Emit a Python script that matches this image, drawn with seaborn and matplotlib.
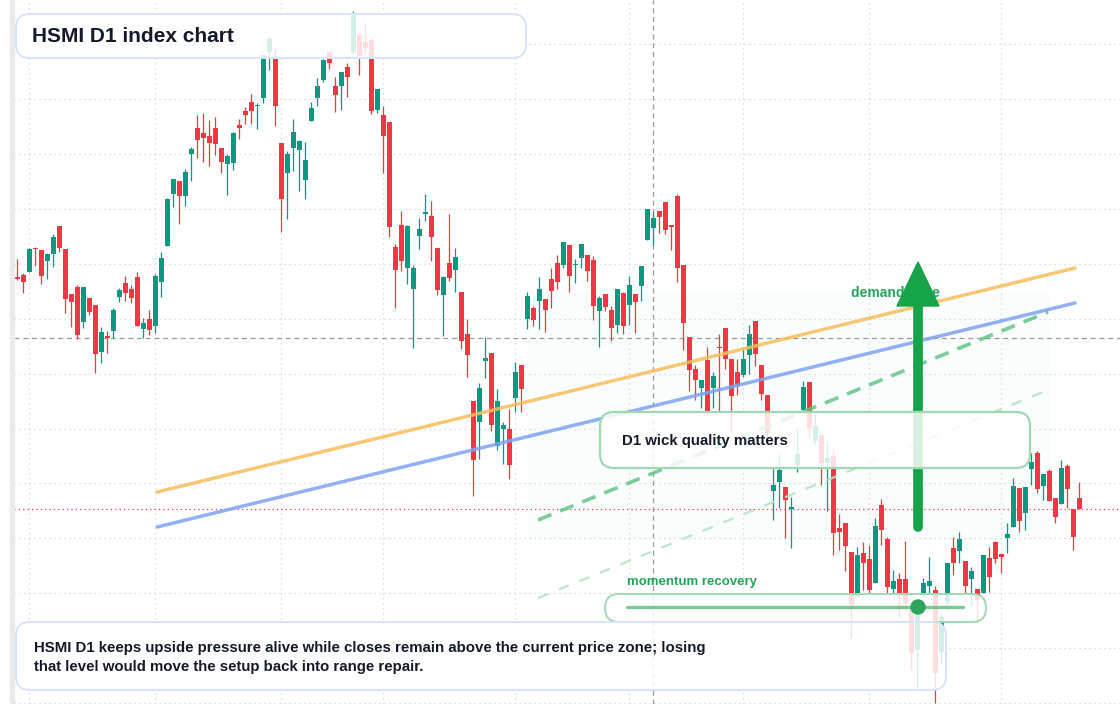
import matplotlib
matplotlib.use("Agg")
import matplotlib.pyplot as plt
from matplotlib.patches import FancyBboxPatch, Polygon, Rectangle, Circle
import numpy as np
import pandas as pd
import seaborn as sns

# daily bars, index points
opens = [427, 429, 432, 456, 454, 443, 450, 478, 455, 410,
         417, 382, 406, 399, 352, 368, 373, 407, 421, 415,
         427, 375, 385, 378, 422, 458, 510, 523, 508, 550,
         576, 571, 568, 576, 556, 540, 541, 579, 593, 602,
         598, 606, 652, 647, 561, 531, 556, 554, 524, 583,
         606, 624, 652, 618, 618, 637, 652, 669, 662, 664,
         594, 589, 582, 457, 479, 436, 415, 468, 490, 488,
         456, 409, 441, 434, 412, 370, 303, 282, 343, 351,
         258, 275, 275, 306, 339, 385, 396, 403, 405, 425,
         441, 439, 459, 439, 446, 449, 444, 393, 410, 394,
         379, 411, 399, 410, 418, 464, 476, 493, 502, 479,
         508, 439, 367, 335, 316, 344, 316, 357, 376, 345,
         332, 329, 349, 383, 339, 309, 213, 222, 217, 195,
         239, 294, 322, 263, 269, 241, 248, 176, 181, 152,
         107, 151, 145, 121, 199, 165, 115, 125, 125, 94,
         54, 111, 118, 114, 52, 102, 156, 153, 143, 125,
         115, 111, 146, 162, 150, 166, 177, 216, 191, 235,
         251, 218, 233, 206, 200, 238, 195, 206]
closes = [425, 422, 455, 455, 428, 450, 467, 456, 405, 402,
          369, 417, 392, 350, 372, 366, 394, 414, 411, 406,
          378, 381, 374, 428, 446, 505, 525, 508, 532, 555,
          564, 566, 561, 560, 542, 548, 571, 576, 589, 593,
          599, 649, 665, 598, 505, 550, 572, 563, 544, 596,
          618, 644, 641, 609, 632, 627, 689, 648, 656, 593,
          615, 568, 477, 434, 443, 478, 436, 475, 492, 467,
          414, 427, 426, 447, 363, 349, 244, 316, 346, 279,
          303, 279, 239, 332, 315, 408, 384, 415, 394, 413,
          422, 462, 428, 440, 460, 433, 398, 406, 397, 376,
          415, 378, 419, 402, 438, 495, 486, 487, 474, 477,
          436, 381, 334, 324, 324, 293, 328, 356, 345, 308,
          318, 345, 370, 350, 310, 271, 219, 234, 204, 197,
          250, 317, 276, 278, 241, 246, 171, 172, 158, 99,
          149, 141, 114, 178, 174, 117, 123, 111, 101, 51,
          91, 121, 123, 31, 87, 141, 141, 165, 118, 133,
          104, 149, 127, 145, 147, 170, 218, 183, 217, 242,
          215, 230, 203, 187, 236, 215, 167, 195]
highs = [445, 431, 456, 457, 454, 451, 470, 478, 455, 410,
         419, 417, 406, 399, 377, 373, 396, 416, 428, 419,
         432, 386, 394, 430, 452, 506, 525, 523, 535, 557,
         589, 591, 584, 587, 556, 550, 572, 585, 597, 610,
         601, 649, 667, 655, 561, 553, 585, 564, 562, 602,
         626, 645, 652, 627, 632, 641, 693, 671, 681, 667,
         615, 598, 582, 460, 493, 479, 439, 486, 510, 503,
         456, 428, 490, 456, 412, 385, 303, 321, 367, 351,
         315, 282, 295, 342, 339, 412, 398, 427, 405, 436,
         449, 462, 459, 445, 460, 449, 448, 408, 410, 398,
         415, 412, 428, 410, 438, 495, 492, 493, 502, 479,
         510, 439, 367, 339, 324, 357, 332, 370, 376, 345,
         345, 357, 379, 383, 339, 309, 237, 250, 217, 207,
         276, 323, 322, 291, 269, 263, 253, 190, 181, 152,
         157, 162, 159, 186, 205, 167, 134, 131, 163, 96,
         91, 126, 147, 118, 91, 141, 167, 172, 143, 137,
         115, 149, 157, 163, 150, 181, 226, 216, 217, 251,
         253, 230, 235, 206, 244, 240, 195, 222]
lows = [424, 411, 432, 438, 420, 425, 437, 452, 391, 377,
        365, 376, 389, 331, 341, 351, 366, 402, 403, 401,
        378, 366, 369, 371, 407, 458, 497, 480, 498, 523,
        546, 542, 538, 549, 531, 509, 534, 565, 580, 580,
        575, 601, 634, 578, 472, 485, 533, 513, 505, 583,
        598, 622, 635, 592, 594, 607, 650, 629, 651, 590,
        591, 531, 467, 396, 433, 420, 356, 455, 483, 443,
        409, 368, 423, 412, 355, 327, 208, 245, 326, 273,
        254, 240, 225, 292, 292, 375, 378, 375, 372, 396,
        415, 436, 412, 421, 436, 423, 384, 357, 393, 363,
        371, 370, 379, 371, 403, 464, 459, 471, 470, 454,
        422, 354, 313, 304, 296, 289, 296, 293, 335, 273,
        309, 327, 330, 338, 304, 268, 184, 196, 166, 156,
        232, 294, 266, 260, 219, 193, 149, 154, 133, 66,
        107, 114, 111, 121, 159, 111, 111, 86, 94, 34,
        16, 108, 111, 1, 40, 94, 129, 141, 109, 99,
        82, 111, 112, 141, 131, 151, 177, 172, 174, 219,
        211, 204, 203, 181, 200, 196, 154, 195]

month_starts = [2, 23, 44, 61, 83, 102, 121, 142, 164]
cross_bar = 106
cross_price = 366

# channel lines (bar index, price)
upper_x, upper_y = [23.3, 176.3], [212, 436]
lower_x, lower_y = [23.3, 176.3], [177, 401]
mid_x, mid_y = [86.8, 171.8], [184, 392]
base_x, base_y = [86.8, 171.8], [106, 314]
zone_x, zone_y = [85, 172], [164, 411]

UP, DOWN = "#089981", "#f23645"
INK = "#131a29"
GREEN = "#16a34a"

df = pd.DataFrame({"open": opens, "high": highs, "low": lows, "close": closes})
df["bar"] = np.arange(len(df))
df["color"] = np.where(df.close >= df.open, UP, DOWN)
df["body_lo"] = df[["open", "close"]].min(axis=1)
df["body_h"] = (df.close - df.open).abs().clip(lower=1.3)

sns.set_theme(style="white")
plt.rcParams["font.family"] = ["Liberation Sans", "DejaVu Sans"]

fig = plt.figure(figsize=(11.2, 7.04), dpi=100)
fig.patches.append(Rectangle((10 / 1120, 0), 4 / 1120, 1, transform=fig.transFigure,
                             color="#ebebeb", zorder=0))
ax = fig.add_axes([14 / 1120, 0, 1106 / 1120, 1])
ax.set_xlim(-0.55, 183.8)
ax.set_ylim(0, 704)
ax.set_xticks(month_starts)
ax.set_yticks(np.arange(1, 704, 54.9))
ax.grid(True, color="#d2d2d2", lw=0.9, ls=(0, (1, 3)))
ax.tick_params(labelbottom=False, labelleft=False, length=0)
sns.despine(ax=ax, left=True, bottom=True)

ax.add_patch(FancyBboxPatch((zone_x[0], zone_y[0]), zone_x[1] - zone_x[0], zone_y[1] - zone_y[0],
                            boxstyle="round,pad=0,rounding_size=3", fc="#22c55e", alpha=0.022,
                            ec="none", zorder=0.5))

ax.vlines(df.bar, df.low, df.high, colors=df.color, lw=0.9, zorder=2)
ax.bar(df.bar, df.body_h, bottom=df.body_lo, width=0.8, color=df.color, lw=0, zorder=2)

ax.axvline(cross_bar, color="#9a9a9a", lw=0.9, ls=(0, (4, 3)), zorder=1)
ax.axhline(cross_price, color="#9a9a9a", lw=0.9, ls=(0, (4, 3)), zorder=1)
ax.axhline(closes[-1], color=DOWN, lw=0.9, ls=(0, (1, 2.5)), zorder=1)

lines = pd.DataFrame({
    "bar": upper_x + lower_x + mid_x + base_x,
    "price": upper_y + lower_y + mid_y + base_y,
    "line": ["upper"] * 2 + ["lower"] * 2 + ["mid"] * 2 + ["base"] * 2,
})
sns.lineplot(data=lines[lines.line == "upper"], x="bar", y="price", color="#f8be5c",
             alpha=0.85, lw=2.5, ax=ax, zorder=3)
sns.lineplot(data=lines[lines.line == "lower"], x="bar", y="price", color="#7fa3f2",
             alpha=0.85, lw=2.5, ax=ax, zorder=3)
sns.lineplot(data=lines[lines.line == "mid"], x="bar", y="price", color="#5cc185",
             alpha=0.8, lw=2.6, dashes=False, ls=(0, (4, 2.6)), ax=ax, zorder=3)
sns.lineplot(data=lines[lines.line == "base"], x="bar", y="price", color="#b7e3c5",
             alpha=0.9, lw=1.6, ls=(0, (5, 5)), ax=ax, zorder=3)
ax.set_xlabel("")
ax.set_ylabel("")

# annotation layer, pixel coordinates
ov = fig.add_axes([0, 0, 1, 1], zorder=5)
ov.set_xlim(0, 1120)
ov.set_ylim(704, 0)
ov.axis("off")
ov.patch.set_alpha(0)


def panel(x0, y0, x1, y1, edge, lw=1.3, z=4, alpha=0.84):
    ov.add_patch(FancyBboxPatch((x0, y0), x1 - x0, y1 - y0,
                                boxstyle="round,pad=0,rounding_size=14",
                                fc=(1, 1, 1, alpha), ec=edge, lw=lw, zorder=z))


ov.text(851, 293, "demand zone", color="#22a55a", fontsize=10, fontweight="bold",
        va="center", ha="left", zorder=2)
ov.plot([918, 918], [527, 300], color=GREEN, lw=7, solid_capstyle="round", zorder=3)
ov.add_patch(Polygon([(897, 306), (939, 306), (918, 262)], closed=True, color=GREEN, zorder=3))

panel(16, 14, 526, 58, "#d6e4fa", lw=1.4)
ov.text(32, 36.5, "HSMI D1 index chart", color=INK, fontsize=15, fontweight="bold",
        va="center", ha="left", zorder=6)

panel(600, 412, 1030, 468, "#a3d7b2", lw=1.6)
ov.text(622, 441, "D1 wick quality matters", color=INK, fontsize=10.8, fontweight="bold",
        va="center", ha="left", zorder=6)

ov.text(627, 582, "momentum recovery", color="#22a55a", fontsize=9.5, fontweight="bold",
        va="center", ha="left", zorder=6)
panel(605, 594, 986, 622, "#a3d7b2", lw=1.4)
ov.plot([627, 963], [607, 607], color="#6cc38b", lw=2.4, alpha=0.9, zorder=6)
ov.add_patch(Circle((918, 607), 7, color="#2ea35a", zorder=7))

panel(16, 622, 946, 690, "#d6e4fa", lw=1.4)
ov.text(34, 657.5, "HSMI D1 keeps upside pressure alive while closes remain above the current price zone; losing\n"
        "that level would move the setup back into range repair.", color=INK, fontsize=10.85,
        fontweight="bold", va="center", ha="left", linespacing=1.4, zorder=6)

fig.savefig("out.png", dpi=100)
